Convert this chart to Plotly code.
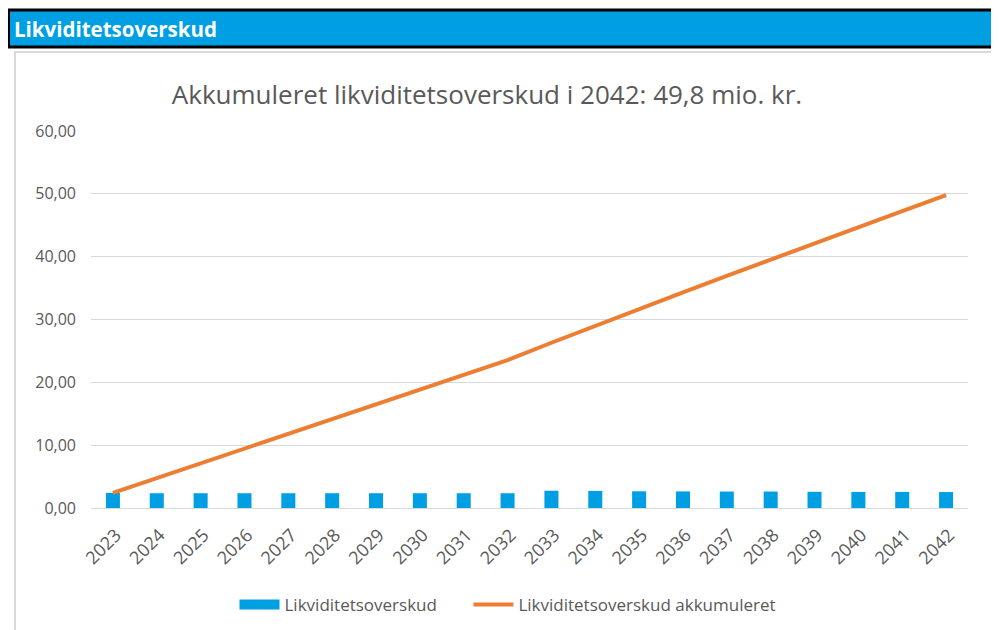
import plotly.graph_objects as go

years = [str(y) for y in range(2023, 2043)]
overskud = [2.40, 2.35, 2.35, 2.35, 2.35, 2.35, 2.35, 2.35, 2.35, 2.35,
            2.75, 2.72, 2.66, 2.64, 2.62, 2.62, 2.58, 2.56, 2.56, 2.54]
akkumuleret = [2.40, 4.75, 7.10, 9.45, 11.80, 14.15, 16.50, 18.85, 21.20, 23.55,
               26.30, 29.02, 31.68, 34.32, 36.94, 39.56, 42.14, 44.70, 47.26, 49.80]
y_ticks = [0, 10, 20, 30, 40, 50, 60]

title_text = "Akkumuleret likviditetsoverskud i 2042: 49,8 mio. kr."
header_text = "Likviditetsoverskud"
name_bar = "Likviditetsoverskud"
name_line = "Likviditetsoverskud akkumuleret"

FONT = "Open Sans, Noto Sans, sans-serif"
BLUE = "#009FE3"
ORANGE = "#ED7D31"

fig = go.Figure()
fig.add_trace(go.Bar(x=years, y=overskud, name=name_bar, showlegend=False,
                     marker=dict(color=BLUE, line=dict(width=0)), width=0.32))
fig.add_trace(go.Scatter(x=years, y=akkumuleret, name=name_line,
                         mode="lines", line=dict(color=ORANGE, width=4), showlegend=False))
# legend entries
fig.add_trace(go.Scatter(x=[None], y=[None], name=name_bar + "\u00a0" * 6, mode="lines",
                         line=dict(color=BLUE, width=10)))
fig.add_trace(go.Scatter(x=[None], y=[None], name=name_line, mode="lines",
                         line=dict(color=ORANGE, width=4)))

def px(xs):
    return (xs - 91) / 877

def py(ys):
    return (508 - ys) / 377

fig.update_layout(
    width=999, height=630,
    margin=dict(l=83, r=39, t=123, b=130),
    paper_bgcolor="white", plot_bgcolor="white",
    separators=",.",
    font=dict(family=FONT, color="#595959", size=16),
    title=dict(text=title_text, x=479 / 999, xanchor="center", y=1 - 87 / 630, yanchor="middle",
               xref="container", yref="container",
               font=dict(size=26, color="#595959", family=FONT)),
    showlegend=True,
    legend=dict(orientation="h", x=px(508), xanchor="center", y=py(605), yanchor="middle",
                font=dict(size=17, color="#595959"), traceorder="normal", itemwidth=40),
    shapes=[
        dict(type="rect", xref="paper", yref="paper", x0=px(15), x1=px(992),
             y0=py(700), y1=py(52), line=dict(color="#d9d9d9", width=2),
             fillcolor="rgba(0,0,0,0)", layer="below"),
        dict(type="rect", xref="paper", yref="paper", x0=px(8.5), x1=px(1010),
             y0=py(47), y1=py(10), line=dict(color="black", width=3),
             fillcolor=BLUE, layer="above"),
    ],
    annotations=[
        dict(text="<b>" + header_text + "</b>", xref="paper", yref="paper",
             x=px(12), y=py(29), xanchor="left", yanchor="middle", showarrow=False,
             font=dict(size=20.5, color="white", family=FONT)),
    ],
)
fig.update_xaxes(type="category", tickangle=-45, showgrid=False, showline=False, ticks="",
                 tickfont=dict(size=18, color="#595959"), ticklabelstandoff=12,
                 ticklabelshift=3)
fig.update_yaxes(range=[0, 60], tickvals=y_ticks, tickformat=".2f", showgrid=True,
                 gridcolor="#d9d9d9", gridwidth=1, zeroline=True, zerolinecolor="#d9d9d9",
                 zerolinewidth=1, showline=False, ticks="", ticklabelstandoff=14,
                 tickfont=dict(size=16, color="#595959"))

fig.write_html("out.html")
